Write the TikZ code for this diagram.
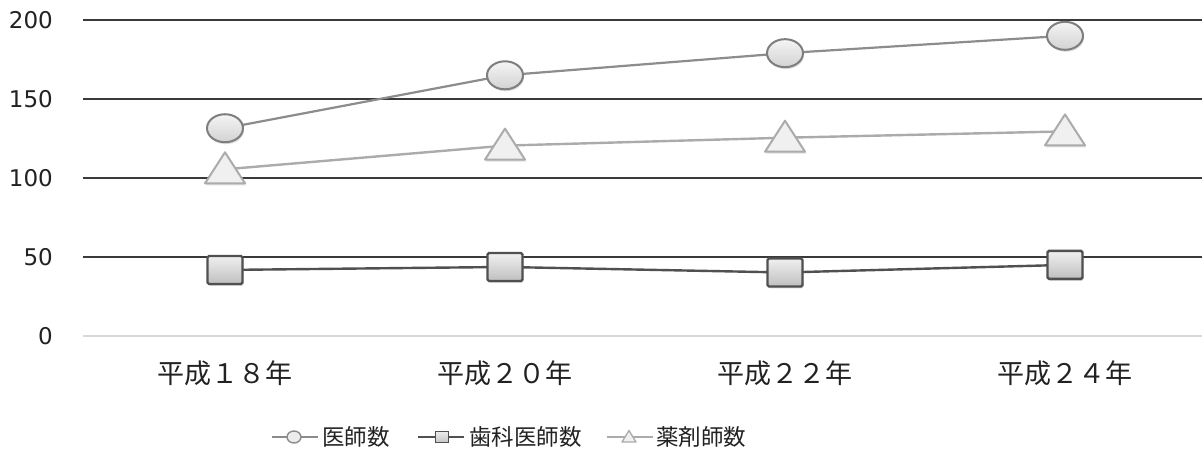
\documentclass[tikz,border=0pt]{standalone}
\usepackage{fontspec}
\setmainfont{DejaVu Sans}
\newfontfamily\jp{Noto Sans CJK JP}
\usetikzlibrary{shapes.geometric,shadows}
\definecolor{gridc}{HTML}{3A3A3A}
\definecolor{zeroc}{HTML}{D8D8D8}
\definecolor{txt}{HTML}{222222}
\definecolor{docline}{HTML}{8C8C8C}
\definecolor{dentline}{HTML}{505050}
\definecolor{pharmline}{HTML}{ABABAB}
\tikzset{
  grid line/.style={gridc, line width=2.2pt},
  axislabel/.style={anchor=east, text=txt, font=\fontsize{23}{23}\selectfont, inner sep=0},
  catlabel/.style={text=txt, font=\jp\fontsize{27}{27}\selectfont, inner sep=0},
  leglabel/.style={text=txt, font=\jp\fontsize{22.5}{22.5}\selectfont, inner sep=0, anchor=west},
  docmark/.style={ellipse, draw=docline!90!black, line width=2pt, minimum width=36pt, minimum height=28pt, inner sep=0,
    top color=gray!8, bottom color=gray!35, drop shadow={opacity=0.25, shadow xshift=1pt, shadow yshift=-2pt}},
  dentmark/.style={rectangle, rounded corners=1.5pt, draw=dentline, line width=2.4pt, minimum width=35pt, minimum height=28pt, inner sep=0,
    top color=gray!12, bottom color=gray!50, drop shadow={opacity=0.3, shadow xshift=1pt, shadow yshift=-2pt}},
  pharmtri/.style={draw=pharmline, line width=2pt, fill=gray!12, line join=round},
  docl/.style={docline, line width=2.2pt},
  dentl/.style={dentline, line width=2.4pt},
  pharml/.style={pharmline, line width=2.4pt},
  smallcirc/.style={ellipse, draw=docline, line width=1.4pt, fill=gray!15, minimum width=14pt, minimum height=12pt, inner sep=0},
  smallsq/.style={rectangle, draw=dentline, line width=1.6pt, top color=gray!15, bottom color=gray!45, minimum width=13pt, minimum height=11pt, inner sep=0},
}
\begin{document}
\begin{tikzpicture}[x=1pt,y=1pt]
\useasboundingbox (0,0) rectangle (1202,448);
\fill[white] (0,0) rectangle (1202,448);
% grid
\draw[zeroc, line width=1.6pt] (83,112) -- (1202,112);
\foreach \v in {50,100,150,200}{
  \draw[grid line] (83,{112+1.58*\v}) -- (1202,{112+1.58*\v});
}
\node[axislabel] (y0) at (53,112) {0};
\node[axislabel] (y50) at (53,{112+1.58*50}) {50};
\node[axislabel] (y100) at (53,{112+1.58*100}) {100};
\node[axislabel] (y150) at (53,{112+1.58*150}) {150};
\node[axislabel] (y200) at (53,{112+1.58*200}) {200};
% category labels
\node[catlabel] (c1) at (225,75) {平成１８年};
\node[catlabel] (c2) at (505,75) {平成２０年};
\node[catlabel] (c3) at (785,75) {平成２２年};
\node[catlabel] (c4) at (1065,75) {平成２４年};
% data coordinates
\coordinate (d1) at (225,{112+1.58*131.5});
\coordinate (d2) at (505,{112+1.58*165});
\coordinate (d3) at (785,{112+1.58*179});
\coordinate (d4) at (1065,{112+1.58*190});
\coordinate (p1) at (225,{112+1.58*105.5});
\coordinate (p2) at (505,{112+1.58*120.5});
\coordinate (p3) at (785,{112+1.58*125.5});
\coordinate (p4) at (1065,{112+1.58*129.5});
\coordinate (t1) at (225,{112+1.58*41.8});
\coordinate (t2) at (505,{112+1.58*43.7});
\coordinate (t3) at (785,{112+1.58*40.2});
\coordinate (t4) at (1065,{112+1.58*45});
% lines
\draw[pharml] (p1) -- (p2) -- (p3) -- (p4);
\draw[docl] (d1) -- (d2) -- (d3) -- (d4);
\draw[dentl] (t1) -- (t2) -- (t3) -- (t4);
% markers
\foreach \p in {p1,p2,p3,p4}{
  \fill[black, opacity=0.12] ([xshift=1pt,yshift=-2pt]\p) ++(-20,-14) -- ++(40,0) -- ++(-20,31) -- cycle;
  \draw[pharmtri] (\p) ++(-20,-14) -- ++(40,0) -- ++(-20,31) -- cycle;
}
\foreach \p in {d1,d2,d3,d4}{ \node[docmark] at (\p) {}; }
\foreach \p in {t1,t2,t3,t4}{ \node[dentmark] at (\p) {}; }
% legend
\coordinate (la1) at (272,11); \coordinate (lb1) at (318,11);
\draw[docl, line width=1.5pt] (la1) -- (lb1);
\node[smallcirc] (lm1) at (294,11) {};
\node[leglabel] (lt1) at (322,11) {医師数};
\coordinate (la2) at (418,11); \coordinate (lb2) at (464,11);
\draw[dentl, line width=1.8pt] (la2) -- (lb2);
\node[smallsq] (lm2) at (442,11) {};
\node[leglabel] (lt2) at (469,11) {歯科医師数};
\coordinate (la3) at (607,11); \coordinate (lb3) at (653,11);
\draw[pharml, line width=1.6pt] (la3) -- (lb3);
\draw[pharmtri, line width=1.3pt] (629,11) ++(-7,-5) -- ++(14,0) -- ++(-7,11.5) -- cycle;
\node[leglabel] (lt3) at (656,11) {薬剤師数};
\end{tikzpicture}
\end{document}
